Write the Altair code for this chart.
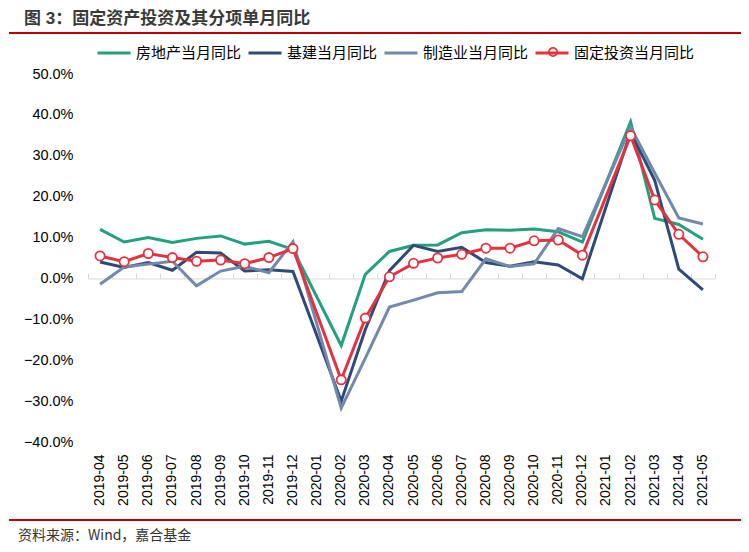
import altair as alt
import pandas as pd

months = ["2019-04", "2019-05", "2019-06", "2019-07", "2019-08", "2019-09", "2019-10",
          "2019-11", "2019-12", "2020-01", "2020-02", "2020-03", "2020-04", "2020-05",
          "2020-06", "2020-07", "2020-08", "2020-09", "2020-10", "2020-11", "2020-12",
          "2021-01", "2021-02", "2021-03", "2021-04", "2021-05"]

real_estate = [12.0, 8.9, 10.0, 8.8, 9.8, 10.4, 8.4, 9.1, 7.1, None, -16.4, 1.0, 6.6, 8.1,
               8.2, 11.2, 11.9, 11.8, 12.1, 11.4, 8.9, None, 38.3, 14.7, 13.2, 9.6]
infra = [4.0, 2.7, 3.9, 2.0, 6.4, 6.2, 1.8, 2.1, 1.7, None, -30.0, -12.5, 1.9, 8.1,
         6.6, 7.6, 3.9, 3.0, 4.1, 3.3, -0.1, None, 35.8, 24.0, 2.3, -2.8]
manufacturing = [-1.4, 2.8, 3.5, 4.2, -1.8, 1.8, 3.0, 1.4, 9.0, None, -31.7, -19.5, -7.0, -5.3,
                 -3.5, -3.2, 4.8, 2.9, 3.6, 12.2, 10.2, None, 37.0, 25.8, 14.8, 13.3]
fai = [5.5, 4.1, 6.1, 5.1, 4.2, 4.5, 3.6, 5.1, 7.3, None, -24.8, -9.7, 0.4, 3.7,
       5.0, 5.9, 7.4, 7.4, 9.2, 9.4, 5.7, None, 34.9, 19.2, 10.8, 5.3]

series_names = ["房地产当月同比", "基建当月同比", "制造业当月同比", "固定投资当月同比"]
colors = ["#22A07F", "#2E4B77", "#7189AB", "#E5323E"]
y_ticks = [-40, -30, -20, -10, 0, 10, 20, 30, 40, 50]

title_text = "图 3：固定资产投资及其分项单月同比"
source_text = "资料来源：Wind，嘉合基金"

rows = []
for name, vals in zip(series_names, [real_estate, infra, manufacturing, fai]):
    for m, v in zip(months, vals):
        if v is not None:
            rows.append({"month": m, "series": name, "value": v})
df = pd.DataFrame(rows)

W, H = 627, 368
YMIN, YMAX = -40, 50
zero_px = H * YMAX / (YMAX - YMIN)

x_scale = alt.Scale(type="band", domain=months, paddingInner=0, paddingOuter=0)
y_scale = alt.Scale(domain=[YMIN, YMAX], nice=False, zero=False)
color_scale = alt.Scale(domain=series_names, range=colors)

y_enc = alt.Y("value:Q", scale=y_scale,
              axis=alt.Axis(title=None, values=y_ticks, grid=False, domain=False, ticks=False,
                            labelExpr="format(datum.value, '.1f') + '%'",
                            labelFont="Liberation Sans", labelFontSize=14.5, labelColor="#000000",
                            labelPadding=15))

label_axis = alt.Axis(title=None, orient="bottom", domain=False, ticks=False, grid=False,
                      labelAngle=270, labelFont="Liberation Sans", labelFontSize=14,
                      labelColor="#000000", labelPadding=12)
zero_axis = alt.Axis(title=None, orient="top", offset=-zero_px, labels=False, grid=False,
                     domain=True, domainColor="#D9D9D9", domainWidth=1,
                     ticks=True, tickBand="extent", tickSize=5, tickColor="#D9D9D9", tickWidth=1)

legend = alt.Legend(title=None, orient="none", legendX=8, legendY=-39, direction="horizontal",
                    symbolType="stroke", symbolSize=1089, symbolStrokeWidth=3,
                    labelFont="Noto Sans CJK SC", labelFontSize=15, labelColor="#000000",
                    columnPadding=0, labelOffset=4)

layers = []
for i, name in enumerate(series_names):
    sub = df[df["series"] == name]
    layers.append(
        alt.Chart(sub).mark_line(strokeWidth=3).encode(
            x=alt.X("month:O", scale=x_scale, bandPosition=0.5,
                    axis=label_axis if i == 0 else None),
            y=y_enc,
            color=alt.Color("series:N", scale=color_scale, legend=legend),
        )
    )

points = alt.Chart(df[df["series"] == series_names[3]]).mark_point(
    filled=True, fill="#FFFFFF", stroke="#E5323E", strokeWidth=1.8, size=85, opacity=1
).encode(
    x=alt.X("month:O", scale=x_scale, bandPosition=0.5, axis=zero_axis),
    y=y_enc,
)

deco = pd.DataFrame({"title": [title_text], "source": [source_text]})
base = alt.Chart(deco)
title = base.mark_text(align="left", baseline="middle", font="Liberation Sans, Noto Sans CJK SC",
                       fontWeight="bold", fontSize=17, color="#3A3A3A").encode(
    text="title:N", x=alt.value(-64), y=alt.value(-55))
source = base.mark_text(align="left", baseline="middle", font="Noto Sans CJK SC",
                        fontSize=14, color="#333333").encode(
    text="source:N", x=alt.value(-70), y=alt.value(462))
rule_top = base.mark_rule(color="#C00000", strokeWidth=2.2).encode(
    x=alt.value(-79), x2=alt.value(653), y=alt.value(-41))
rule_bottom = base.mark_rule(color="#C00000", strokeWidth=2.2).encode(
    x=alt.value(-79), x2=alt.value(653), y=alt.value(446))
legend_marker = base.mark_point(filled=True, fill="#FFFFFF", stroke="#E5323E",
                                strokeWidth=1.8, size=70, opacity=1).encode(
    x=alt.value(465), y=alt.value(-22))

chart = alt.layer(*layers, points, title, source, rule_top, rule_bottom, legend_marker).resolve_axis(
    x="independent"
).properties(
    width=W, height=H,
    autosize=alt.AutoSizeParams(type="none"),
    padding={"left": 80, "top": 66, "right": 26, "bottom": 102},
).configure_view(stroke=None)

chart.save("out.html", embed_options={"renderer": "svg", "actions": False})
